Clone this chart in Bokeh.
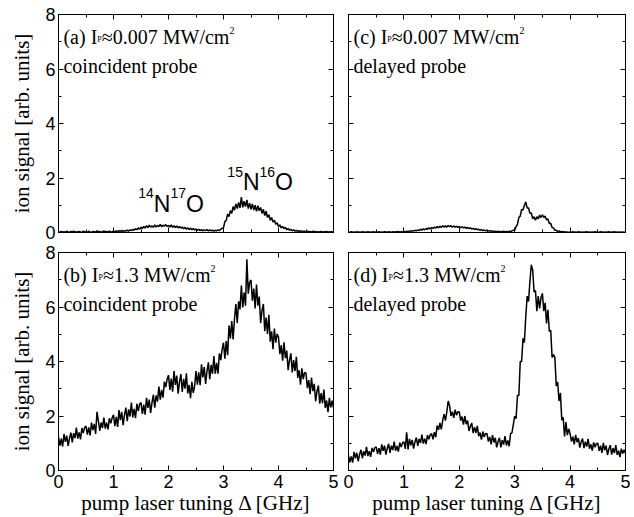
import numpy as np
from bokeh.plotting import figure
from bokeh.layouts import row, column
from bokeh.models import (LinearAxis, SingleIntervalTicker, Range1d, Label,
                          CustomJSTickFormatter)
from bokeh.embed import file_html
from bokeh.resources import INLINE

# ---------------- data ----------------
detuning = np.linspace(0.0, 5.0, 201)  # pump laser tuning [GHz]

signal_a = [
    0.03, 0.00, 0.04, 0.01, 0.03, 0.00, 0.05, 0.02, 0.01, 0.04,
    0.02, 0.05, 0.00, 0.03, 0.01, 0.04, 0.02, 0.00, 0.05, 0.02,
    0.03, 0.01, 0.05, 0.02, 0.00, 0.04, 0.03, 0.01, 0.06, 0.02,
    0.04, 0.01, 0.03, 0.06, 0.02, 0.04, 0.01, 0.05, 0.03, 0.02,
    0.05, 0.02, 0.06, 0.03, 0.07, 0.04, 0.08, 0.03, 0.07, 0.05,
    0.09, 0.05, 0.10, 0.07, 0.12, 0.08, 0.14, 0.10, 0.17, 0.12,
    0.20, 0.14, 0.22, 0.16, 0.25, 0.18, 0.27, 0.20, 0.24, 0.19,
    0.28, 0.20, 0.26, 0.22, 0.30, 0.21, 0.27, 0.23, 0.29, 0.22,
    0.26, 0.20, 0.28, 0.19, 0.25, 0.18, 0.24, 0.17, 0.22, 0.16,
    0.20, 0.14, 0.19, 0.12, 0.17, 0.11, 0.16, 0.10, 0.15, 0.09,
    0.13, 0.08, 0.12, 0.07, 0.11, 0.06, 0.10, 0.07, 0.11, 0.06,
    0.10, 0.06, 0.09, 0.05, 0.08, 0.06, 0.10, 0.07, 0.12, 0.15,
    0.18, 0.40, 0.45, 0.68, 0.58, 0.80, 0.70, 0.95, 0.82, 1.05,
    0.88, 1.10, 0.90, 1.30, 0.92, 1.15, 0.95, 1.20, 0.88, 1.08,
    0.85, 1.05, 0.82, 1.00, 0.78, 0.98, 0.80, 0.92, 0.70, 0.85,
    0.62, 0.78, 0.55, 0.65, 0.45, 0.55, 0.38, 0.45, 0.30, 0.36,
    0.22, 0.28, 0.17, 0.22, 0.14, 0.19, 0.10, 0.15, 0.08, 0.12,
    0.06, 0.10, 0.05, 0.08, 0.04, 0.07, 0.03, 0.06, 0.04, 0.05,
    0.02, 0.05, 0.03, 0.04, 0.01, 0.05, 0.02, 0.04, 0.01, 0.03,
    0.02, 0.04, 0.01, 0.03, 0.02, 0.04, 0.00, 0.03, 0.02, 0.03,
    0.02,
]

signal_b = [
    1.23, 0.91, 1.17, 0.88, 1.34, 1.05, 1.28, 0.90, 1.18, 1.39,
    1.03, 1.37, 1.19, 1.57, 1.17, 1.40, 1.14, 1.56, 1.37, 1.58,
    1.63, 1.32, 1.58, 1.29, 1.76, 1.48, 1.71, 1.34, 2.15, 1.82,
    1.45, 1.76, 1.56, 1.94, 1.54, 1.76, 1.51, 1.92, 1.73, 1.93,
    2.04, 1.63, 1.97, 1.60, 2.22, 1.85, 2.15, 1.66, 2.04, 2.31,
    1.81, 2.24, 1.98, 2.49, 1.95, 2.26, 1.92, 2.45, 2.18, 2.44,
    2.49, 2.08, 2.42, 2.05, 2.67, 2.30, 2.60, 2.11, 2.49, 2.78,
    2.31, 2.76, 2.53, 3.08, 2.60, 2.96, 2.67, 3.26, 3.06, 3.35,
    3.50, 2.96, 3.37, 2.89, 3.65, 3.14, 3.48, 2.82, 3.25, 3.54,
    2.88, 3.36, 3.00, 3.57, 2.83, 3.14, 2.65, 3.25, 2.85, 3.10,
    3.65, 3.15, 3.60, 3.13, 3.90, 3.42, 3.80, 3.18, 3.65, 3.97,
    3.35, 3.88, 3.55, 4.20, 3.55, 3.95, 3.55, 4.30, 4.05, 4.45,
    4.69, 4.10, 4.75, 4.23, 5.32, 4.85, 5.48, 4.81, 5.57, 6.11,
    5.41, 6.21, 5.91, 6.79, 5.98, 6.53, 6.05, 7.75, 6.49, 6.91,
    6.99, 6.23, 6.68, 5.95, 6.82, 6.05, 6.38, 5.41, 5.87, 6.11,
    5.11, 5.61, 5.01, 5.71, 4.73, 5.11, 4.45, 5.21, 4.69, 5.01,
    4.90, 4.27, 4.60, 4.03, 4.70, 4.12, 4.40, 3.68, 4.05, 4.30,
    3.60, 4.05, 3.65, 4.17, 3.40, 3.68, 3.15, 3.75, 3.35, 3.60,
    3.57, 3.02, 3.32, 2.80, 3.41, 2.91, 3.18, 2.54, 2.90, 3.12,
    2.45, 2.84, 2.47, 2.97, 2.30, 2.57, 2.14, 2.67, 2.32, 2.56,
    2.30,
]

signal_c = [
    0.02, 0.00, 0.03, 0.01, 0.02, 0.00, 0.03, 0.01, 0.02, 0.00,
    0.03, 0.01, 0.02, 0.00, 0.03, 0.01, 0.02, 0.01, 0.03, 0.00,
    0.02, 0.01, 0.03, 0.00, 0.02, 0.01, 0.03, 0.02, 0.01, 0.03,
    0.02, 0.00, 0.03, 0.01, 0.03, 0.02, 0.04, 0.01, 0.03, 0.02,
    0.04, 0.02, 0.05, 0.03, 0.06, 0.04, 0.07, 0.05, 0.08, 0.06,
    0.10, 0.07, 0.12, 0.09, 0.13, 0.10, 0.15, 0.12, 0.17, 0.13,
    0.18, 0.15, 0.20, 0.16, 0.22, 0.17, 0.23, 0.19, 0.25, 0.20,
    0.24, 0.20, 0.26, 0.21, 0.25, 0.19, 0.24, 0.20, 0.23, 0.19,
    0.22, 0.18, 0.21, 0.17, 0.20, 0.15, 0.19, 0.14, 0.17, 0.13,
    0.15, 0.11, 0.14, 0.10, 0.12, 0.08, 0.11, 0.07, 0.09, 0.06,
    0.08, 0.05, 0.07, 0.04, 0.06, 0.03, 0.05, 0.03, 0.05, 0.02,
    0.04, 0.02, 0.05, 0.03, 0.04, 0.02, 0.05, 0.03, 0.06, 0.08,
    0.08, 0.22, 0.30, 0.55, 0.60, 0.85, 0.82, 1.00, 1.12, 0.90,
    0.90, 0.70, 0.72, 0.50, 0.58, 0.45, 0.58, 0.50, 0.64, 0.55,
    0.65, 0.55, 0.60, 0.46, 0.50, 0.33, 0.34, 0.18, 0.17, 0.08,
    0.08, 0.04, 0.06, 0.02, 0.04, 0.01, 0.03, 0.01, 0.02, 0.00,
    0.02, 0.00, 0.03, 0.01, 0.02, 0.00, 0.03, 0.01, 0.02, 0.00,
    0.02, 0.01, 0.03, 0.00, 0.02, 0.01, 0.02, 0.00, 0.03, 0.01,
    0.02, 0.00, 0.03, 0.01, 0.02, 0.00, 0.02, 0.01, 0.03, 0.00,
    0.02, 0.01, 0.03, 0.00, 0.02, 0.01, 0.02, 0.00, 0.02, 0.01,
    0.02,
]

signal_d = [
    0.55, 0.30, 0.52, 0.29, 0.68, 0.45, 0.65, 0.34, 0.59, 0.76,
    0.45, 0.71, 0.55, 0.87, 0.53, 0.71, 0.50, 0.83, 0.68, 0.84,
    0.87, 0.61, 0.82, 0.58, 0.96, 0.72, 0.91, 0.58, 0.82, 0.98,
    0.65, 0.91, 0.75, 1.06, 0.72, 0.90, 0.69, 1.02, 0.86, 1.02,
    1.05, 0.79, 1.40, 0.77, 1.16, 0.92, 1.12, 0.80, 1.05, 1.21,
    0.90, 1.16, 1.01, 1.32, 0.99, 1.17, 0.97, 1.30, 1.15, 1.31,
    1.35, 1.14, 1.41, 1.22, 1.65, 1.49, 1.75, 1.51, 1.83, 2.07,
    1.83, 2.16, 2.55, 2.37, 2.00, 2.16, 1.93, 2.23, 2.03, 2.16,
    2.15, 1.83, 1.98, 1.68, 2.00, 1.70, 1.83, 1.45, 1.63, 1.74,
    1.37, 1.59, 1.38, 1.64, 1.26, 1.39, 1.13, 1.43, 1.23, 1.36,
    1.35, 1.06, 1.23, 0.96, 1.30, 1.03, 1.20, 0.85, 1.06, 1.20,
    0.85, 1.11, 0.95, 1.26, 0.92, 1.10, 0.89, 1.35, 1.38, 1.68,
    2.00, 1.90, 2.75, 2.75, 4.00, 4.00, 4.85, 4.70, 5.65, 6.40,
    6.20, 6.95, 7.55, 7.35, 6.55, 6.60, 5.85, 6.40, 5.95, 6.35,
    6.50, 5.85, 6.15, 5.40, 5.90, 5.10, 5.15, 4.15, 4.25, 4.15,
    3.10, 3.25, 2.55, 2.85, 1.85, 1.95, 1.25, 1.78, 1.30, 1.53,
    1.35, 1.06, 1.24, 0.96, 1.31, 1.04, 1.19, 0.84, 1.05, 1.17,
    0.82, 1.06, 0.88, 1.16, 0.80, 0.96, 0.73, 1.03, 0.85, 0.99,
    1.00, 0.72, 0.91, 0.65, 1.01, 0.74, 0.91, 0.57, 0.79, 0.93,
    0.58, 0.82, 0.64, 0.93, 0.57, 0.73, 0.49, 0.80, 0.62, 0.76,
    0.62,
]

panel_tags = ["a", "b", "c", "d"]
intensities = ["0.007", "1.3", "0.007", "1.3"]
probe_labels = ["coincident probe", "coincident probe", "delayed probe", "delayed probe"]
x_label = "pump laser tuning \u0394 [GHz]"
y_label = "ion signal [arb. units]"
iso_low = ("14", "N", "17", "O")
iso_high = ("15", "N", "16", "O")

# ---------------- styling helpers ----------------
SERIF = "Liberation Serif"
SANS = "Liberation Sans"
SERIF_W = {' ': 250, '(': 333, ')': 333, 'a': 444, 'b': 500, 'c': 444, 'd': 500,
           'I': 333, 'P': 556, '\u2248': 549, '.': 250, 'M': 889, 'W': 944,
           '/': 278, 'm': 778}
SANS_W = {'N': 722, 'O': 778}
LIFT = 7  # px correction for label baseline placement


def text_w(s, size, table):
    default = 500 if table is SERIF_W else 556
    return sum(table.get(ch, default) for ch in s) * size / 1000.0


def add_runs(p, x, y, runs):
    dx = 0.0
    for text, font, table, size, rise in runs:
        p.add_layout(Label(x=x, y=y, x_offset=dx, y_offset=rise + LIFT, text=text,
                           text_font=font, text_font_size=f"{size}px",
                           text_color="black", text_baseline="alphabetic",
                           text_align="left"))
        dx += text_w(text, size, table)


def add_axis(p, side, show_labels, title=None):
    interval = 1 if side in ("below", "above") else 2
    ax = LinearAxis(ticker=SingleIntervalTicker(interval=interval, num_minor_ticks=2))
    ax.major_tick_in = 5
    ax.major_tick_out = 0
    ax.minor_tick_in = 3
    ax.minor_tick_out = 0
    ax.axis_line_color = "black"
    ax.major_tick_line_color = "black"
    ax.minor_tick_line_color = "black"
    if show_labels:
        ax.major_label_text_font = SANS
        ax.major_label_text_font_size = "18px"
        ax.major_label_text_color = "black"
        ax.major_label_standoff = 4 if side == "below" else 3
    else:
        ax.formatter = CustomJSTickFormatter(code="return ''")
        ax.major_label_text_font_size = "0px"
        ax.major_label_standoff = 0
    if title:
        ax.axis_label = title
        ax.axis_label_text_font = SERIF
        ax.axis_label_text_font_size = "21px"
        ax.axis_label_text_font_style = "normal"
        ax.axis_label_text_color = "black"
        ax.axis_label_standoff = 0 if side == "below" else 8
    p.add_layout(ax, side)


def make_panel(signal, k, left_col, top_row, lw):
    b_left = 58 if left_col else 10
    b_right = 5
    b_top = 14 if top_row else 10
    b_bottom = 10 if top_row else 47
    fw = 275 if left_col else 277
    fh = 218
    p = figure(width=b_left + fw + b_right, height=b_top + fh + b_bottom,
               x_range=Range1d(0, 5), y_range=Range1d(0, 8),
               x_axis_type=None, y_axis_type=None,
               output_backend="svg", toolbar_location=None,
               min_border_left=b_left, min_border_right=b_right,
               min_border_top=b_top, min_border_bottom=b_bottom)
    p.outline_line_color = "black"
    p.outline_line_alpha = 1.0
    p.background_fill_color = "white"
    p.border_fill_color = "white"
    add_axis(p, "below", not top_row, None if top_row else x_label)
    add_axis(p, "above", False)
    add_axis(p, "left", left_col, y_label if left_col else None)
    add_axis(p, "right", False)
    p.line(detuning, signal, line_color="black", line_width=lw)

    runs = [(f"({panel_tags[k]}) I", SERIF, SERIF_W, 20, 0),
            ("P", SERIF, SERIF_W, 8, -2),
            (f"\u2248{intensities[k]} MW/cm", SERIF, SERIF_W, 20, 0),
            ("2", SERIF, SERIF_W, 10, 7)]
    add_runs(p, 0.09, 6.91, runs)
    add_runs(p, 0.09, 5.85, [(probe_labels[k], SERIF, SERIF_W, 20, 0)])
    return p


pa = make_panel(signal_a, 0, True, True, 1.5)
pb = make_panel(signal_b, 1, True, False, 1.5)
pc = make_panel(signal_c, 2, False, True, 1.5)
pd = make_panel(signal_d, 3, False, False, 1.5)


def iso_runs(parts):
    a, b, c, d = parts
    return [(a, SANS, SANS_W, 14, 10.5), (b, SANS, SANS_W, 23, 0),
            (c, SANS, SANS_W, 14, 10.5), (d, SANS, SANS_W, 23, 0)]


add_runs(pa, 1.45, 0.8, iso_runs(iso_low))
add_runs(pa, 3.07, 1.59, iso_runs(iso_high))

layout = column(row(pa, pc), row(pb, pd))

with open("out.html", "w") as f:
    f.write(file_html(layout, INLINE))
